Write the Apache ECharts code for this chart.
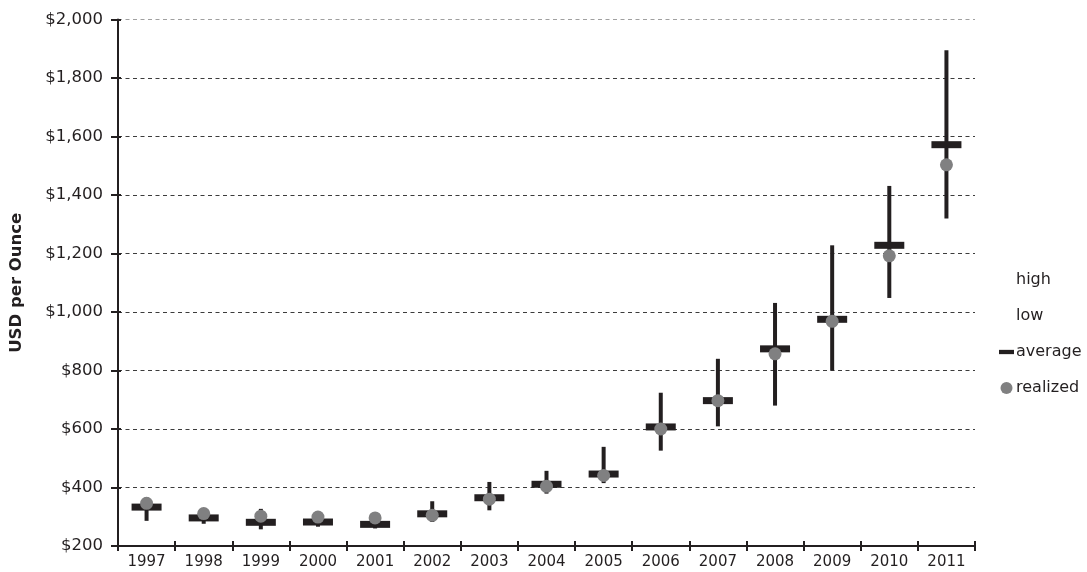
<!DOCTYPE html>
<html>
<head>
<meta charset="utf-8">
<script src="https://cdn.jsdelivr.net/npm/echarts@6/dist/echarts.min.js"></script>
<style>html,body{margin:0;padding:0;background:#fff}#c{width:1087px;height:572px}</style>
</head>
<body>
<div id="c"></div>
<script>
const years = ['1997','1998','1999','2000','2001','2002','2003','2004','2005','2006','2007','2008','2009','2010','2011'];
const high = [366, 313, 327, 313, 293, 353, 419, 457, 539, 724, 840, 1031, 1228, 1431, 1895];
const low = [286, 276, 257, 266, 260, 282, 322, 379, 415, 526, 609, 680, 800, 1048, 1320];
const average = [333, 296, 281, 282, 274, 310, 365, 411, 446, 607, 697, 874, 975, 1228, 1572];
const realized = [346, 311, 302, 299, 296, 305, 360, 404, 441, 600, 697, 857, 968, 1192, 1503];
const yTicks = [200, 2000, 200]; // min, max, interval

const dark = '#231f20';
const fnt = 'DejaVu Sans';
const chart = echarts.init(document.getElementById('c'), null, {renderer: 'canvas'});
const gridColors = [];
for (let v = yTicks[0]; v <= yTicks[1]; v += yTicks[2]) gridColors.push(v === yTicks[1] ? '#a0a0a0' : '#3c3c3c');

chart.setOption({
  animation: false,
  backgroundColor: '#fff',
  textStyle: {fontFamily: fnt},
  grid: {left: 117, right: 112, top: 19.5, bottom: 26, containLabel: false},
  legend: {
    orient: 'vertical', left: 994, top: 267, itemGap: 20, itemWidth: 15, itemHeight: 12,
    textStyle: {fontFamily: fnt, fontSize: 16, color: dark, padding: [0, 0, 0, -3]},
    data: [
      {name: 'high', icon: 'none'},
      {name: 'low', icon: 'none'},
      {name: 'average', icon: 'path://M0,0H14V4H0Z'},
      {name: 'realized', icon: 'circle'}
    ]
  },
  xAxis: [{
    type: 'category', data: years, boundaryGap: true,
    axisLine: {lineStyle: {color: dark, width: 2}},
    axisTick: {show: true, interval: 0, inside: false, length: 5, lineStyle: {color: dark, width: 2}},
    axisLabel: {interval: 0, color: dark, fontSize: 15, fontFamily: fnt, margin: 9},
    splitLine: {show: false}
  }, {
    type: 'category', data: years, boundaryGap: true, position: 'bottom',
    axisLine: {show: false},
    axisTick: {show: true, interval: 0, inside: true, length: 5, lineStyle: {color: dark, width: 2}},
    axisLabel: {show: false}, splitLine: {show: false}
  }],
  yAxis: [{
    type: 'value', min: yTicks[0], max: yTicks[1], interval: yTicks[2],
    name: 'USD per Ounce', nameLocation: 'middle', nameGap: 93, nameRotate: 90,
    nameTextStyle: {fontFamily: fnt, fontWeight: 'bold', fontSize: 16.5, color: dark},
    axisLine: {show: true, lineStyle: {color: dark, width: 2}},
    axisTick: {show: true, length: 7, lineStyle: {color: dark, width: 2}},
    axisLabel: {color: dark, fontSize: 16.5, fontFamily: fnt, margin: 15,
      formatter: v => '$' + v.toLocaleString('en-US')},
    splitLine: {show: true, lineStyle: {color: gridColors, width: 1, type: [4, 3.5]}}
  }, {
    type: 'value', min: yTicks[0], max: yTicks[1], interval: yTicks[2], position: 'left',
    axisLine: {show: false},
    axisTick: {show: true, inside: true, length: 3, lineStyle: {color: dark, width: 2}},
    axisLabel: {show: false}, splitLine: {show: false}
  }],
  series: [
    {
      name: 'range', type: 'custom', silent: true,
      data: years.map((y, i) => [i, low[i], high[i]]),
      encode: {x: 0, y: [1, 2]},
      renderItem: function (params, api) {
        const a = api.coord([api.value(0), api.value(1)]);
        const b = api.coord([api.value(0), api.value(2)]);
        return {type: 'line', shape: {x1: a[0], y1: a[1], x2: b[0], y2: b[1]},
          style: {stroke: dark, lineWidth: 4}};
      }
    },
    {name: 'high', type: 'scatter', symbol: 'none', symbolSize: 0, data: high, itemStyle: {color: dark}},
    {name: 'low', type: 'scatter', symbol: 'none', symbolSize: 0, data: low, itemStyle: {color: dark}},
    {name: 'average', type: 'scatter', symbol: 'rect', symbolSize: [30, 7], data: average,
      itemStyle: {color: dark, opacity: 1}},
    {name: 'realized', type: 'scatter', symbol: 'circle', symbolSize: 13, data: realized,
      itemStyle: {color: '#808081', opacity: 1}}
  ]
});
</script>
</body>
</html>
